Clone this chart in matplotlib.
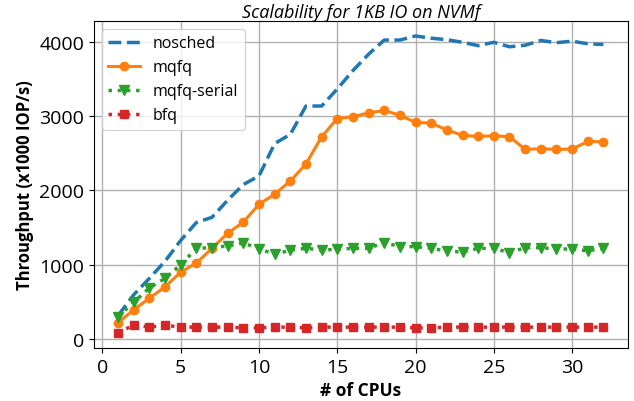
import matplotlib
matplotlib.use("Agg")
import matplotlib.pyplot as plt

plt.rcParams['font.family'] = ['Open Sans', 'DejaVu Sans']

cpus = list(range(1, 33))
nosched = [320, 600, 820, 1050, 1330, 1570, 1640, 1870, 2080, 2195, 2630, 2753, 3134, 3134, 3363,
           3610, 3830, 4020, 4020, 4075, 4045, 4025, 3990, 3945, 3990, 3930, 3950, 4015, 3985, 4005, 3970, 3960]
mqfq = [224, 398, 554, 706, 903, 1026, 1223, 1425, 1576, 1814, 1950, 2126, 2355, 2722, 2965,
        2990, 3042, 3075, 3010, 2914, 2905, 2813, 2740, 2726, 2735, 2722, 2552, 2561, 2552, 2556, 2658, 2653]
mqfq_serial = [307, 499, 692, 820, 1003, 1223, 1232, 1255, 1295, 1219, 1141, 1200, 1223, 1200, 1210,
               1223, 1223, 1301, 1246, 1246, 1223, 1187, 1173, 1223, 1223, 1164, 1232, 1232, 1214, 1214, 1191, 1223]
bfq = [85, 195, 165, 190, 165, 165, 165, 165, 155, 155, 165, 165, 155, 165, 165,
       165, 165, 165, 165, 155, 155, 165, 165, 165, 165, 165, 165, 165, 165, 165, 165, 165]

fig, ax = plt.subplots(figsize=(6.34, 4.02), dpi=100)
ax.plot(cpus, nosched, '--', color='#1f77b4', lw=2.5, label='nosched')
ax.plot(cpus, mqfq, '-', marker='o', color='#ff7f0e', lw=2.2, ms=6, label='mqfq')
ax.plot(cpus, mqfq_serial, ':', marker='v', color='#2ca02c', lw=2.5, ms=6.5, label='mqfq-serial')
ax.plot(cpus, bfq, ':', marker='s', color='#d62728', lw=2.5, ms=6, label='bfq')

ax.grid(True, color='#b0b0b0', lw=1)
ax.set_axisbelow(True)
ax.set_xticks([0, 5, 10, 15, 20, 25, 30])
ax.set_yticks([0, 1000, 2000, 3000, 4000])
ax.tick_params(labelsize=14)
ax.set_xlabel('# of CPUs', fontsize=12.5, fontweight='bold')
ax.set_ylabel('Throughput (x1000 IOP/s)', fontsize=12, fontweight='bold')
ax.set_title('Scalability for 1KB IO on NVMf', fontsize=13, style='italic', pad=3)
ax.legend(loc='upper left', fontsize=11.5)

fig.subplots_adjust(left=0.148, right=0.99, top=0.945, bottom=0.132)
fig.savefig('out.png', dpi=100)
